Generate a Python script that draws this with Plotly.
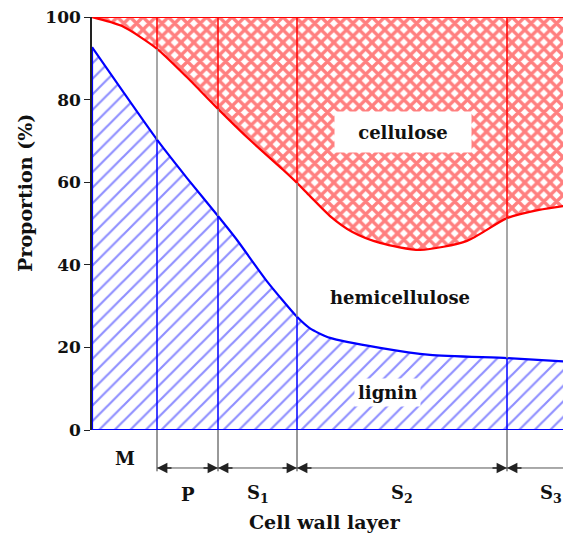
import numpy as np
import plotly.graph_objs as go

# Lignin proportion (%), read from the lower (blue) curve
lignin_pos = [0, 65, 95, 126, 145, 175, 205, 218, 238, 288, 338, 415, 479]
lignin = [92.7, 70.3, 61.0, 51.8, 46.0, 36.0, 27.4, 24.6, 22.3, 19.9, 18.2, 17.4, 16.5]

# Lower edge of cellulose (%), read from the upper (red) curve
cellulose_pos = [0, 30, 65, 95, 125, 158, 191, 205, 218, 238, 260, 288, 328, 375, 415, 447, 479]
cellulose_edge = [100, 97.8, 92.3, 85.4, 78.0, 70.2, 63.0, 59.8, 56.6, 51.8, 48.0, 45.3, 43.6,
                  45.8, 51.3, 53.3, 54.5]

# Cell wall layers and their boundaries (same units as the positions above)
layer_names = ['M', 'P', 'S<sub>1</sub>', 'S<sub>2</sub>', 'S<sub>3</sub>']
layer_bounds = [0, 65, 126, 205, 415, 503]

y_ticks = [0, 20, 40, 60, 80, 100]

FONT = 'DejaVu Serif'
BLUE = '#0000ff'
RED = '#ff0000'
GREY = '#8a8a8a'
X_END = 479


def bold_font(size, color='#111111'):
    """Bold serif font used for all the text on the chart."""
    return dict(family=FONT, size=size, color=color, weight='bold')


def add_areas(fig):
    """Add the hatched lignin and cross-hatched cellulose areas."""
    # cellulose: from the red curve up to 100 %
    fig.add_trace(go.Scatter(
        x=cellulose_pos, y=[100] * len(cellulose_pos), mode='lines',
        line=dict(color=RED, width=2.2), hoverinfo='skip'
    ))
    fig.add_trace(go.Scatter(
        x=cellulose_pos, y=cellulose_edge, mode='lines',
        fill='tonexty',
        line=dict(color=RED, width=2.2, shape='spline', smoothing=0.7),
        fillcolor='rgba(0,0,0,0)',
        fillpattern=dict(shape='x', fgcolor=RED, bgcolor='white', size=9, solidity=0.6),
        hoverinfo='skip'
    ))

    # lignin: from 0 up to the blue curve
    fig.add_trace(go.Scatter(
        x=lignin_pos, y=lignin, mode='lines',
        fill='tozeroy',
        line=dict(color=BLUE, width=2.2, shape='spline', smoothing=0.6),
        fillcolor='rgba(0,0,0,0)',
        fillpattern=dict(shape='/', fgcolor='#1f1fff', bgcolor='white', size=11, solidity=0.2),
        hoverinfo='skip'
    ))
    # bottom and left edges of the lignin area
    fig.add_trace(go.Scatter(
        x=[lignin_pos[-1], 0, 0], y=[0, 0, lignin[0]], mode='lines',
        line=dict(color=BLUE, width=2.2), hoverinfo='skip'
    ))


def add_layer_lines(fig):
    """Vertical layer boundary lines, coloured by the area they cross."""
    for b in layer_bounds[1:]:
        if b > X_END:
            continue
        low = float(np.interp(b, lignin_pos, lignin))
        high = float(np.interp(b, cellulose_pos, cellulose_edge))
        for y0, y1, color in [(0, low, BLUE), (low, high, GREY), (high, 100, RED)]:
            fig.add_shape(type='line', xref='x', yref='y', x0=b, x1=b, y0=y0, y1=y1,
                          line=dict(color=color, width=1.5))
        # part below the axis, down to the dimension arrows
        fig.add_shape(type='line', xref='x', yref='paper', x0=b, x1=b, y0=-0.10, y1=0,
                      line=dict(color='#333333', width=1))


def add_dimension_arrows(fig):
    """Arrows under the axis that mark the extent of each layer."""
    y_arrow = -0.092
    fig.add_shape(type='line', xref='x', yref='paper', x0=layer_bounds[1], x1=layer_bounds[-1],
                  y0=y_arrow, y1=y_arrow, line=dict(color='#555555', width=1))
    for left, right in zip(layer_bounds[1:-1], layer_bounds[2:]):
        for head, tail in [(left, 16), (right, -16)]:
            fig.add_annotation(x=head, y=y_arrow, xref='x', yref='paper', text='',
                               showarrow=True, ax=tail, ay=0, arrowhead=2, arrowsize=1.3,
                               arrowwidth=1.6, arrowcolor='#222222', standoff=0)


def add_labels(fig):
    """Layer names, area names and axis titles."""
    for i, name in enumerate(layer_names):
        mid = (layer_bounds[i] + layer_bounds[i + 1]) / 2
        fig.add_annotation(x=mid, y=-0.068 if i == 0 else -0.155, xref='x', yref='paper',
                           xanchor='center', yanchor='middle',
                           text=name, showarrow=False, font=bold_font(18))

    fig.add_annotation(x=311, y=72.2, text='cellulose', showarrow=False,
                       font=bold_font(18), bgcolor='white', width=134, height=38)
    fig.add_annotation(x=308, y=32.2, text='hemicellulose', showarrow=False,
                       font=bold_font(18))
    fig.add_annotation(x=295, y=9.2, text='lignin', showarrow=False,
                       font=bold_font(18), bgcolor='white', borderpad=3)

    fig.add_annotation(x=0.486, y=-0.222, xref='paper', yref='paper', text='Cell wall layer',
                       xanchor='center', yanchor='middle', showarrow=False, font=bold_font(19))
    fig.add_annotation(x=-0.14, y=0.574, xref='paper', yref='paper', text='Proportion (%)',
                       xanchor='center', yanchor='middle', textangle=-90, showarrow=False,
                       font=bold_font(19))


def create_plot():
    """Build the cell wall composition figure."""
    fig = go.Figure()
    add_areas(fig)
    add_layer_lines(fig)
    add_dimension_arrows(fig)
    add_labels(fig)

    # page body has an 8px margin, so the figure is a little smaller than the window
    fig.update_layout(
        width=563, height=530,
        margin=dict(l=84, r=0, t=9, b=108),
        paper_bgcolor='white', plot_bgcolor='white',
        showlegend=False,
        xaxis=dict(range=[0, X_END], showgrid=False, zeroline=False,
                   showticklabels=False, ticks='', showline=False),
        yaxis=dict(range=[0, 100], tickvals=y_ticks, ticks='outside', ticklen=6,
                   tickcolor='#222222', showline=True, linecolor='#222222', linewidth=1.5,
                   showgrid=False, zeroline=False, layer='below traces',
                   ticklabeloverflow='allow', tickfont=bold_font(17))
    )
    return fig


if __name__ == "__main__":
    fig = create_plot()
    fig.write_html("out.html")
